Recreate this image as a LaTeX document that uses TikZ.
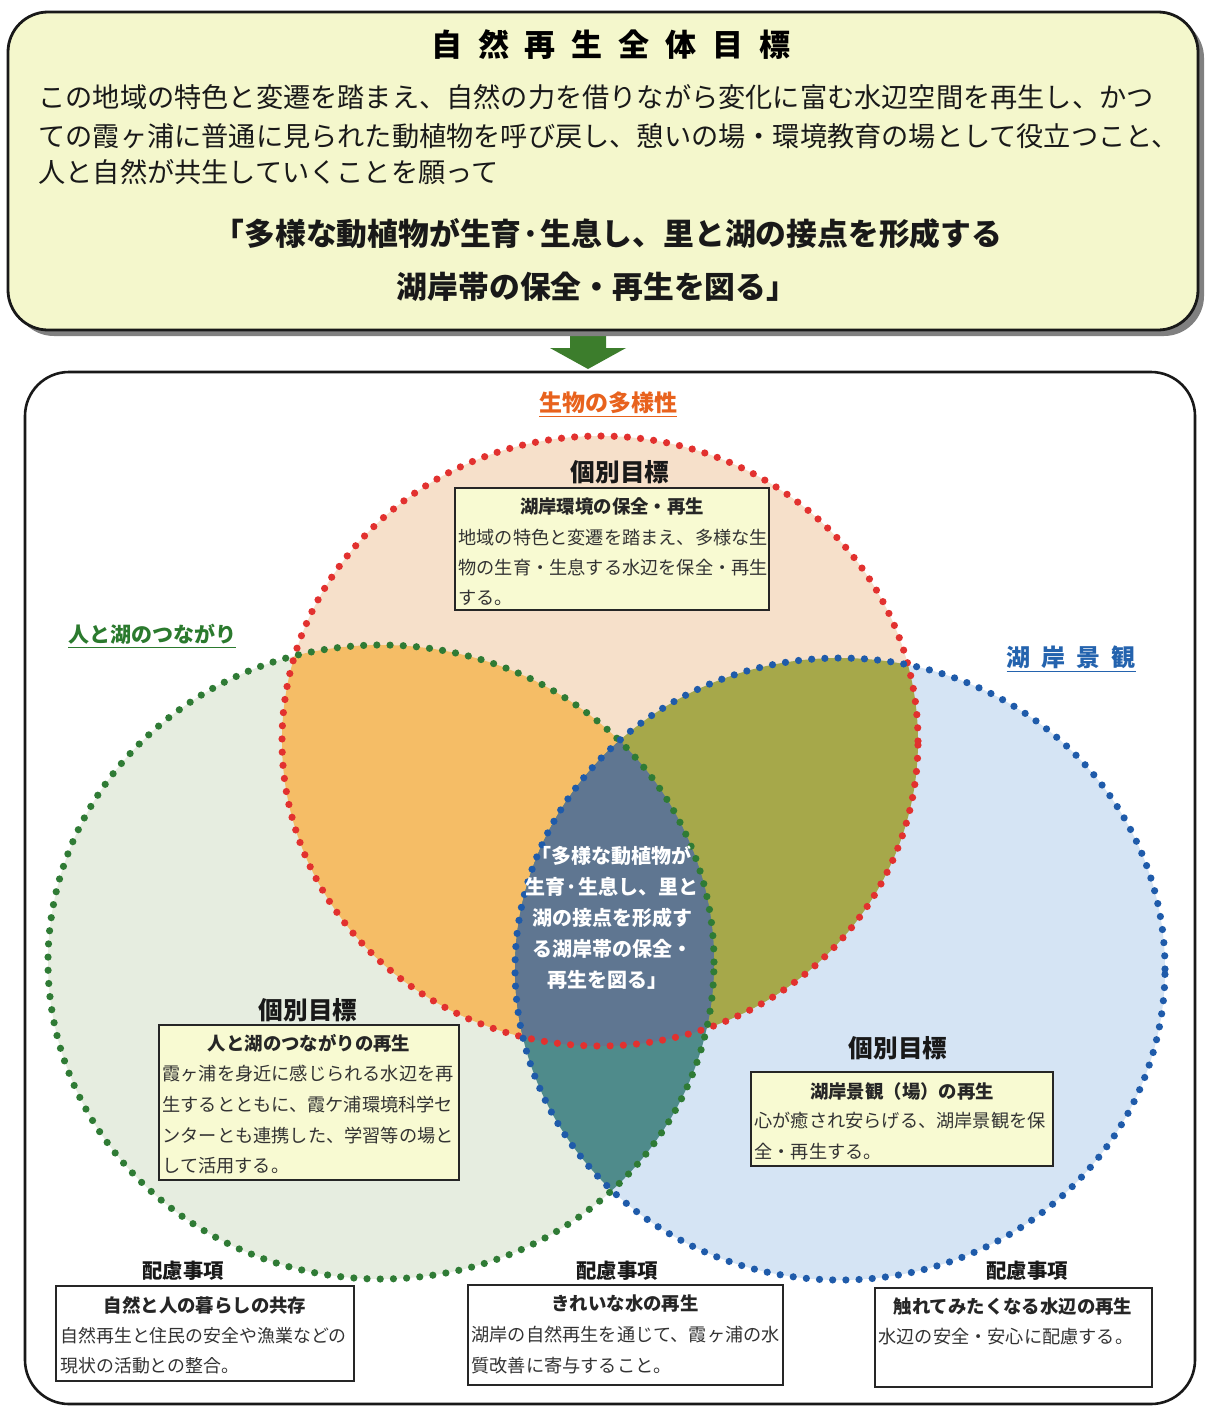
\documentclass[tikz,border=0pt]{standalone}
\usepackage{fontspec}
\setmainfont{Noto Sans CJK JP}
\usetikzlibrary{shadows}
\definecolor{boxyellow}{HTML}{F4F7CC}
\definecolor{tyellow}{HTML}{F8FAD2}
\definecolor{peach}{HTML}{F6E0CA}
\definecolor{greenlt}{HTML}{E6EDE0}
\definecolor{bluelt}{HTML}{D5E4F4}
\definecolor{ovorange}{HTML}{F5BD66}
\definecolor{ovolive}{HTML}{A6A84A}
\definecolor{ovteal}{HTML}{4F8B8B}
\definecolor{ovslate}{HTML}{5F7691}
\definecolor{reddot}{HTML}{E2312F}
\definecolor{greendot}{HTML}{2F7B35}
\definecolor{bluedot}{HTML}{1F5BAA}
\definecolor{arrowgreen}{HTML}{3C7D2C}
\definecolor{lblorange}{HTML}{E8621D}
\definecolor{lblgreen}{HTML}{2B7A2E}
\definecolor{lblblue}{HTML}{2463AE}
\begin{document}
\begin{tikzpicture}[x=0.5pt,y=-0.5pt,
  ibox/.style={draw=black!85, line width=1.1pt, fill=tyellow, inner sep=0pt},
  wbox/.style={draw=black!85, line width=1.1pt, fill=white, inner sep=0pt},
  head/.style={font=\fontsize{12.3}{14}\selectfont\bfseries, text=black!90, inner sep=0pt},
  ttl/.style={font=\fontsize{9.2}{11}\selectfont\bfseries, text=black!85, inner sep=0pt},
  body/.style={font=\fontsize{9.1}{11}\selectfont, text=black!80, inner sep=0pt, anchor=west},
  lens/.style={font=\fontsize{10}{12}\selectfont\bfseries, text=white, inner sep=0pt},
  para/.style={font=\fontsize{13.6}{16}\selectfont, text=black!90, inner sep=0pt, anchor=west},
  quote/.style={font=\fontsize{15.4}{18}\selectfont\bfseries, text=black!90, inner sep=0pt},
  dotline/.style={line width=3.6pt, dash pattern=on 0pt off 6.6pt, line cap=round},
]
\useasboundingbox (0,0) rectangle (1208,1408);
\fill[white] (0,0) rectangle (1208,1408);

\def\redE{(600,741) ellipse [x radius=159pt, y radius=152.5pt]}
\def\greenE{(381,962) ellipse [x radius=166.5pt, y radius=158.5pt]}
\def\blueE{(840,969) ellipse [x radius=162.5pt, y radius=155.5pt]}

% arrow
\fill[arrowgreen] (570,320) -- (606,320) -- (606,348) -- (626,348) -- (588,369) -- (550,348) -- (570,348) -- cycle;

% top goal box
\node[draw=black!90, line width=1.4pt, fill=boxyellow, rounded corners=20pt,
      minimum width=595pt, minimum height=159pt, inner sep=0pt,
      drop shadow={shadow xshift=3pt, shadow yshift=-3pt, fill=black!50, opacity=1}] (goal) at (603,171) {};
\node[font=\fontsize{15.5}{18}\selectfont\bfseries, inner sep=0pt] (gtitle) at (611,45)
  {自\hspace{8pt}然\hspace{8pt}再\hspace{8pt}生\hspace{8pt}全\hspace{8pt}体\hspace{8pt}目\hspace{8pt}標};
\node[para] (gp1) at (38,97) {この地域の特色と変遷を踏まえ、自然の力を借りながら変化に富む水辺空間を再生し、かつ};
\node[para] (gp2) at (38,136) {ての霞ヶ浦に普通に見られた動植物を呼び戻し、憩いの場・環境教育の場として役立つこと、};
\node[para] (gp3) at (38,172) {人と自然が共生していくことを願って};
\node[quote] (gq1) at (608,234) {「多様な動植物が生育·生息し、里と湖の接点を形成する};
\node[quote] (gq2) at (597,287) {湖岸帯の保全・再生を図る」};

% lower frame
\node[draw=black!90, line width=1.3pt, rounded corners=22pt, minimum width=585pt, minimum height=516pt, inner sep=0pt] (frame) at (610,888) {};

% venn fills
\fill[peach] \redE;
\fill[greenlt] \greenE;
\fill[bluelt] \blueE;
\begin{scope}\clip \redE; \fill[ovorange] \greenE; \end{scope}
\begin{scope}\clip \redE; \fill[ovolive] \blueE; \end{scope}
\begin{scope}\clip \greenE; \fill[ovteal] \blueE; \end{scope}
\begin{scope}\clip \redE; \clip \greenE; \fill[ovslate] \blueE; \end{scope}
% outlines
\draw[dotline, reddot] \redE;
\draw[dotline, greendot] \greenE;
\draw[dotline, bluedot] \blueE;

% category labels
\node[font=\fontsize{11.5}{13}\selectfont\bfseries, text=lblorange, inner sep=0pt] (lbio) at (608,405) {\underline{生物の多様性}};
\node[font=\fontsize{10.5}{12}\selectfont\bfseries, text=lblgreen, inner sep=0pt] (lhum) at (152,636) {\underline{人と湖のつながり}};
\node[font=\fontsize{12}{14}\selectfont\bfseries, text=lblblue, inner sep=0pt] (lsce) at (1071,659) {\underline{湖\hspace{5.5pt}岸\hspace{5.5pt}景\hspace{5.5pt}観}};

% red goal
\node[head] (h1) at (620,472) {個別目標};
\node[ibox, minimum width=157pt, minimum height=61pt] (b1) at (612,549) {};
\node[ttl] (b1t) at (612,507) {湖岸環境の保全・再生};
\node[body] (b1a) at (458,538) {地域の特色と変遷を踏まえ、多様な生};
\node[body] (b1b) at (458,568) {物の生育・生息する水辺を保全・再生};
\node[body] (b1c) at (458,598) {する。};

% green goal
\node[head] (h2) at (308,1010) {個別目標};
\node[ibox, minimum width=150pt, minimum height=77.5pt] (b2) at (309,1102.5) {};
\node[ttl] (b2t) at (309,1043) {人と湖のつながりの再生};
\node[body] (b2a) at (162,1074) {霞ヶ浦を身近に感じられる水辺を再};
\node[body] (b2b) at (162,1105) {生するとともに、霞ケ浦環境科学セ};
\node[body] (b2c) at (162,1136) {ンターとも連携した、学習等の場と};
\node[body] (b2d) at (162,1166) {して活用する。};

% blue goal
\node[head] (h3) at (898,1048) {個別目標};
\node[ibox, minimum width=151pt, minimum height=47pt] (b3) at (902,1119) {};
\node[ttl] (b3t) at (902,1091) {湖岸景観（場）の再生};
\node[body] (b3a) at (754,1121) {心が癒され安らげる、湖岸景観を保};
\node[body] (b3b) at (754,1152) {全・再生する。};

% center lens text
\node[lens] (c1) at (611,856) {「多様な動植物が};
\node[lens] (c2) at (612,887) {生育·生息し、里と};
\node[lens] (c3) at (612,918) {湖の接点を形成す};
\node[lens] (c4) at (612,949) {る湖岸帯の保全・};
\node[lens] (c5) at (607,980) {再生を図る」};

% considerations
\node[head, font=\fontsize{10.2}{12}\selectfont\bfseries] (k1) at (183,1271) {配慮事項};
\node[wbox, minimum width=149pt, minimum height=47.5pt] (w1) at (205,1333.5) {};
\node[ttl] (w1t) at (205,1305) {自然と人の暮らしの共存};
\node[body, font=\fontsize{8.95}{11}\selectfont] (w1a) at (60,1336) {自然再生と住民の安全や漁業などの};
\node[body, font=\fontsize{8.95}{11}\selectfont] (w1b) at (60,1366) {現状の活動との整合。};

\node[head, font=\fontsize{10.2}{12}\selectfont\bfseries] (k2) at (617,1271) {配慮事項};
\node[wbox, minimum width=157.5pt, minimum height=50pt] (w2) at (625.5,1335) {};
\node[ttl] (w2t) at (625,1304) {きれいな水の再生};
\node[body] (w2a) at (471,1335) {湖岸の自然再生を通じて、霞ヶ浦の水};
\node[body] (w2b) at (471,1366) {質改善に寄与すること。};

\node[head, font=\fontsize{10.2}{12}\selectfont\bfseries] (k3) at (1027,1271) {配慮事項};
\node[wbox, minimum width=138.5pt, minimum height=49.5pt] (w3) at (1013.5,1337.5) {};
\node[ttl] (w3t) at (1013,1307) {触れてみたくなる水辺の再生};
\node[body] (w3a) at (878,1337) {水辺の安全・安心に配慮する。};
\end{tikzpicture}
\end{document}
